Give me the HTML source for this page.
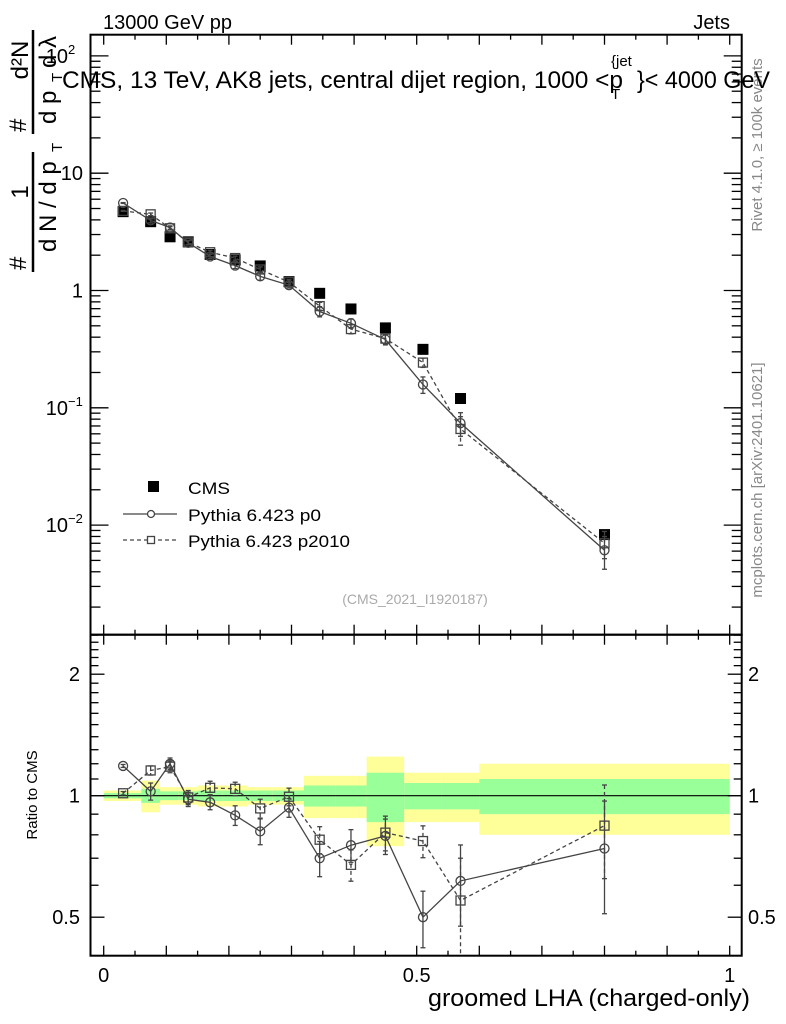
<!DOCTYPE html>
<html><head><meta charset="utf-8"><style>
html,body{margin:0;padding:0;background:#fff;}
svg{display:block;font-family:"Liberation Sans",Arial,sans-serif;}
</style></head><body>
<svg id="c" width="786" height="1024" viewBox="0 0 786 1024">
<text x="103" y="29" font-size="20">13000 GeV pp</text>
<text x="730" y="29" font-size="20" text-anchor="end">Jets</text>
<text x="762" y="145" font-size="15" fill="#888" text-anchor="middle" transform="rotate(-90 762 145)">Rivet 4.1.0, ≥ 100k events</text>
<text x="762" y="480" font-size="15" fill="#888" text-anchor="middle" transform="rotate(-90 762 480)">mcplots.cern.ch [arXiv:2401.10621]</text>
<g font-size="24">
<text transform="translate(26,270) rotate(-90)">#</text>
<text transform="translate(28,192) rotate(-90)" text-anchor="middle">1</text>
<line x1="33" y1="272" x2="33" y2="152" stroke="#000" stroke-width="2.5"/>
<text transform="translate(56,252) rotate(-90)">d N / d p</text>
<text transform="translate(62,152) rotate(-90)" font-size="15">T</text>
<text transform="translate(26,132) rotate(-90)">#</text>
<text transform="translate(28,60) rotate(-90)" text-anchor="middle">d²N</text>
<line x1="33" y1="134" x2="33" y2="30" stroke="#000" stroke-width="2.5"/>
<text transform="translate(56,124) rotate(-90)">d p</text>
<text transform="translate(62,82) rotate(-90)" font-size="15">T</text>
<text transform="translate(56,68) rotate(-90)">d λ</text>
</g>
<text transform="translate(37,795) rotate(-90)" font-size="15" text-anchor="middle">Ratio to CMS</text>
<text x="750" y="1006" font-size="24" text-anchor="end" textLength="322" lengthAdjust="spacingAndGlyphs">groomed LHA (charged-only)</text>
<g id="bands"></g><g id="plots"></g><g id="axes"></g>
<g>
<text x="62" y="88" font-size="24" textLength="561" lengthAdjust="spacingAndGlyphs">CMS, 13 TeV, AK8 jets, central dijet region, 1000 &lt;p</text>
<text x="611" y="99" font-size="15">T</text>
<text x="611" y="66" font-size="15">{jet</text>
<text x="637" y="88" font-size="24" textLength="133" lengthAdjust="spacingAndGlyphs">}&lt; 4000 GeV</text>
</g>
<text x="415" y="604" font-size="14" fill="#aaa" text-anchor="middle">(CMS_2021_I1920187)</text>
<g>
<rect x="148" y="481" width="11" height="11" fill="#000"/>
<text x="188" y="494" font-size="17" textLength="42" lengthAdjust="spacingAndGlyphs">CMS</text>
<line x1="123" y1="514" x2="177" y2="514" stroke="#444" stroke-width="1.3"/>
<circle cx="151" cy="514" r="3.5" fill="#fff" stroke="#444" stroke-width="1.3"/>
<text x="188" y="521" font-size="17" textLength="133" lengthAdjust="spacingAndGlyphs">Pythia 6.423 p0</text>
<line x1="123" y1="540" x2="177" y2="540" stroke="#444" stroke-width="1.3" stroke-dasharray="4,3"/>
<rect x="147.5" y="536.5" width="7" height="7" fill="#fff" stroke="#444" stroke-width="1.3"/>
<text x="188" y="547" font-size="17" textLength="162" lengthAdjust="spacingAndGlyphs">Pythia 6.423 p2010</text>
</g>
</svg>
<script>
const edges=[0,0.06,0.09,0.12,0.15,0.19,0.23,0.27,0.32,0.37,0.42,0.48,0.54,0.6,1.0];
const xc=[0.031,0.075,0.106,0.135,0.17,0.21,0.25,0.296,0.345,0.395,0.45,0.51,0.57,0.8];
const cms=[4.7,3.86,2.87,2.6,2.03,1.82,1.62,1.19,0.946,0.696,0.48,0.315,0.12,0.0083];
const statErr=[0.015,0.04,0.025,0.025,0.03,0.03,0.03,0.03,0.06,0.06,0.14,0.075,0.075,0.1];
const totErr=[0.03,0.09,0.05,0.05,0.06,0.06,0.05,0.05,0.12,0.12,0.25,0.14,0.14,0.2];
const p0=[5.57,3.96,3.44,2.55,1.95,1.63,1.32,1.11,0.662,0.525,0.382,0.158,0.074,0.0061];
const p2010=[4.77,4.46,3.39,2.57,2.12,1.89,1.51,1.18,0.736,0.469,0.389,0.243,0.066,0.0070];
const r0=[1.185,1.025,1.2,0.98,0.963,0.894,0.816,0.934,0.70,0.754,0.795,0.50,0.615,0.74];
const r0e=[0.01,0.05,0.04,0.04,0.04,0.05,0.06,0.05,0.07,0.07,0.08,0.08,0.14,0.23];
const r1=[1.014,1.155,1.18,0.99,1.046,1.04,0.93,0.994,0.778,0.674,0.81,0.772,0.55,0.843];
const r1e=[0.01,0.03,0.04,0.04,0.04,0.04,0.05,0.05,0.06,0.06,0.08,0.07,0.15,0.22];
const NS="http://www.w3.org/2000/svg";
const X=v=>103.7+626*v;
const YM=v=>290.5-117.3*Math.log10(v);
const YR=v=>795.7-121.5*Math.log2(v);
const L=90.5,R=741.7,T=34.7,MB=634.7,RB=955.7;
function mk(t,a,p){const e=document.createElementNS(NS,t);for(const k in a)e.setAttribute(k,a[k]);(p||document.getElementById('plots')).appendChild(e);return e;}
const bg=document.getElementById('bands');
for(let i=0;i<cms.length;i++){
 const x1=X(edges[i]),x2=X(edges[i+1]);
 let b=mk('rect',{x:x1,y:YR(1+totErr[i]),width:x2-x1,height:YR(1-totErr[i])-YR(1+totErr[i]),fill:'#ffff99'},bg);
 
 
 b=mk('rect',{x:x1,y:YR(1+statErr[i]),width:x2-x1,height:YR(1-statErr[i])-YR(1+statErr[i]),fill:'#99ff99'},bg);
 
 
}
let ln=mk('line',{x1:L,x2:R,y1:YR(1),y2:YR(1),stroke:'#000','stroke-width':1.2},bg);


function series(vals,Y,errs,dash,marker,name){
 const pts=vals.map((v,i)=>X(xc[i])+','+Y(v)).join(' ');
 const pl=mk('polyline',{points:pts,fill:'none',stroke:'#444','stroke-width':1.3,'stroke-dasharray':dash});
 
 
 vals.forEach((v,i)=>{
  const x=X(xc[i]);
  if(errs){const lo=Math.min(Y(Math.max(v-errs[i],1e-4)),RB),hi=Y(v+errs[i]);
   mk('line',{x1:x,x2:x,y1:hi,y2:lo,stroke:'#444','stroke-width':1.3,'stroke-dasharray':dash});
   mk('line',{x1:x-2.5,x2:x+2.5,y1:hi,y2:hi,stroke:'#444','stroke-width':1.3});
   mk('line',{x1:x-2.5,x2:x+2.5,y1:lo,y2:lo,stroke:'#444','stroke-width':1.3});}
  let m;
  if(marker==='c')m=mk('circle',{cx:x,cy:Y(v),r:4.5,fill:'none',stroke:'#444','stroke-width':1.3});
  else m=mk('rect',{x:x-4.5,y:Y(v)-4.5,width:9,height:9,fill:'none',stroke:'#444','stroke-width':1.3});
  
  
 });
}
const mainErr0=p0.map((v,i)=>v*r0e[i]/r0[i]);
const mainErr1=p2010.map((v,i)=>v*r1e[i]/r1[i]);
cms.forEach((v,i)=>{const s=mk('rect',{x:X(xc[i])-5.5,y:YM(v)-5.5,width:11,height:11,fill:'#000'});
 
 });
series(p0,YM,mainErr0,'','c','pythia-p0');
series(p2010,YM,mainErr1,'4,3','s','pythia-p2010');
series(r0,YR,r0e,'','c','ratio-p0');
series(r1,YR,r1e,'4,3','s','ratio-p2010');
const ag=document.getElementById('axes');
function fr(y1,y2,name){const r=mk('rect',{x:L,y:y1,width:R-L,height:y2-y1,fill:'none',stroke:'#000','stroke-width':2},ag);
 
 }
fr(T,MB,'main-plot-frame');fr(MB,RB,'ratio-plot-frame');
function tl(x1,y1,x2,y2){mk('line',{x1,y1,x2,y2,stroke:'#000','stroke-width':1.3},ag);}
for(let k=0;k<=20;k++){const v=k*0.05,x=X(v),len=(k%2===0)?10:5;
 [T,MB].forEach(y=>tl(x,y,x,y+len));[MB,RB].forEach(y=>tl(x,y,x,y-len));}
[['0',0],['0.5',0.5],['1',1]].forEach(([t,v])=>{const e=mk('text',{x:X(v),y:982,'font-size':20,'text-anchor':'middle'},ag);e.textContent=t;
 
 });
for(let d=-3;d<=2;d++){for(let m=1;m<10;m++){const v=m*Math.pow(10,d),y=YM(v);if(y<T||y>MB)continue;const len=m===1?18:10;tl(L,y,L+len,y);tl(R,y,R-len,y);}}
const mlab=[[2,'10','2'],[1,'10',''],[0,'1',''],[-1,'10','−1'],[-2,'10','−2']];
mlab.forEach(([d,b,s])=>{const y=YM(Math.pow(10,d))+7;const e=mk('text',{x:s?68:83,y:y,'font-size':20,'text-anchor':'end'},ag);e.textContent=b;
 
 
 if(s){const t=mk('text',{x:68,y:y-9,'font-size':13},ag);t.textContent=s;}});
for(let v=0.4;v<=2.51;v+=0.1){const y=YR(v);if(y<MB||y>RB)continue;const maj=Math.abs(v-1)<1e-6||Math.abs(v-2)<1e-6||Math.abs(v-0.5)<1e-6;const len=maj?14:8;tl(L,y,L+len,y);tl(R,y,R-len,y);}
[['2',2],['1',1],['0.5',0.5]].forEach(([t,v])=>{const y=YR(v)+7;
 const e=mk('text',{x:80,y:y,'font-size':20,'text-anchor':'end'},ag);e.textContent=t;
 
 
 const e2=mk('text',{x:748,y:y,'font-size':20},ag);e2.textContent=t;
 
 });
</script>
</body></html>
